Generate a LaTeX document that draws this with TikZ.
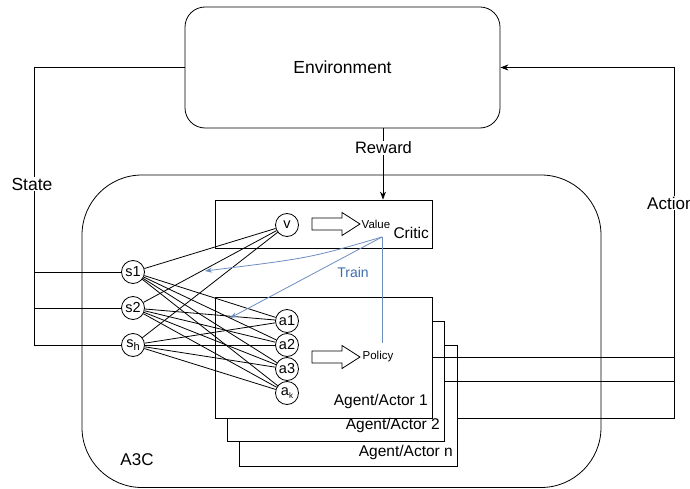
\documentclass[tikz,border=0pt]{standalone}
\usepackage{fontspec}
\setmainfont{Liberation Sans}
\usetikzlibrary{arrows.meta}
\definecolor{trainblue}{HTML}{6C8EBF}
\definecolor{traintext}{HTML}{3E6DAE}
\newcommand{\fs}[1]{\fontsize{#1}{#1}\selectfont}
\tikzset{
  box/.style={draw, line width=0.8pt, fill=white},
  unit/.style={draw, circle, line width=0.8pt, fill=white, minimum size=23pt, inner sep=0pt, font=\fs{14.5}},
  wire/.style={line width=0.8pt},
  lbl/.style={fill=white, inner sep=1pt},
  trainline/.style={draw=trainblue, line width=0.8pt},
  fatarrow/.pic={\draw[line width=0.8pt, fill=white]
    (0,-6) -- (30,-6) -- (30,-11.5) -- (48,0) -- (30,11.5) -- (30,6) -- (0,6) -- cycle;}
}
\begin{document}
\begin{tikzpicture}[x=1pt, y=-1pt]
\useasboundingbox (0,0) rectangle (690,489);
\clip (0,0) rectangle (690,489);

% environment and the A3C container
\node[box, rounded corners=20pt, minimum width=315pt, minimum height=121pt, font=\fs{17.5}] (env) at (342.5,67.5) {Environment};
\draw[line width=0.8pt, rounded corners=60pt] (82,175) rectangle (601,487.5);
\node[font=\fs{17}] (a3c) at (137,460) {A3C};

% critic
\node[box, minimum width=217pt, minimum height=48pt] (critic) at (323.5,224) {};
\node[anchor=east, font=\fs{15.5}, inner sep=0pt] (criticlbl) at (429,233) {Critic};

% stacked agents
\node[box, minimum width=218pt, minimum height=121pt] (agent3) at (348,405.5) {};
\node[box, minimum width=217pt, minimum height=120pt] (agent2) at (335.5,381) {};
\node[box, minimum width=217pt, minimum height=121pt] (agent1) at (323.5,357.5) {};
\node[anchor=east, font=\fs{15.5}, inner sep=0pt] (lbl1) at (428,401) {Agent/Actor 1};
\node[anchor=east, font=\fs{15.5}, inner sep=0pt] (lbl2) at (440,425) {Agent/Actor 2};
\node[anchor=east, font=\fs{15.5}, inner sep=0pt] (lbln) at (453,452) {Agent/Actor n};

% block arrows with outputs
\pic at (312,224) {fatarrow};
\pic at (312,357) {fatarrow};
\node[font=\fs{11.5}, inner sep=0pt] (value) at (376,224) {Value};
\node[font=\fs{11.5}, inner sep=0pt] (policy) at (378,357) {Policy};

% units
\node[unit] (s1) at (133,272) {s1};
\node[unit] (s2) at (133,308) {s2};
\node[unit] (sh) at (133,345) {s\raisebox{-3pt}{\fs{11}h}};
\node[unit] (v) at (287,225) {v};
\node[unit] (a1) at (287,321) {a1};
\node[unit] (a2) at (287,345) {a2};
\node[unit] (a3) at (287,369) {a3};
\node[unit] (ak) at (287,393) {a\raisebox{-2.5pt}{\fs{8}k}};

% fully connected layer
\foreach \s in {s1,s2,sh}{
  \foreach \t in {v,a1,a2,a3,ak}{
    \draw[wire] (\s) -- (\t);
  }
}

% training signal
\coordinate (tsrc) at (382,237);
\coordinate (tend1) at (205,271);
\coordinate (tend2) at (230,318);
\coordinate (tpol) at (382,343);
\draw[trainline, -{Stealth[length=7pt, width=5pt]}] (tsrc) .. controls (310,258) .. (tend1);
\draw[trainline, -{Stealth[length=7pt, width=5pt]}] (tsrc) -- (tend2);
\draw[trainline] (tsrc) -- (tpol);
\node[text=traintext, font=\fs{14}] (train) at (353,272) {Train};

% state feed
\coordinate (stop) at (34,67.5);
\coordinate (sbot) at (34,345);
\draw[wire] (env.west) -- (stop) -- (sbot) -- (sh);
\draw[wire] (s1 -| stop) -- (s1);
\draw[wire] (s2 -| stop) -- (s2);
\node[lbl, font=\fs{17.5}] (state) at (32,184) {State};

% reward
\draw[wire, -{Stealth[length=8pt, width=6pt]}] (env.south -| 383,0) -- (critic.north -| 383,0);
\node[lbl, font=\fs{16.5}] (reward) at (383.5,148) {Reward};

% actions
\coordinate (abot) at (674,418);
\coordinate (atop) at (674,67.5);
\draw[wire, -{Stealth[length=8pt, width=6pt]}] (agent3.east |- abot) -- (abot) -- (atop) -- (env.east);
\draw[wire] (agent1.east) -- (agent1.east -| abot);
\draw[wire] (agent2.east) -- (agent2.east -| abot);
\node[lbl, anchor=west, font=\fs{17}] (action) at (646,203) {Action};
\end{tikzpicture}
\end{document}
